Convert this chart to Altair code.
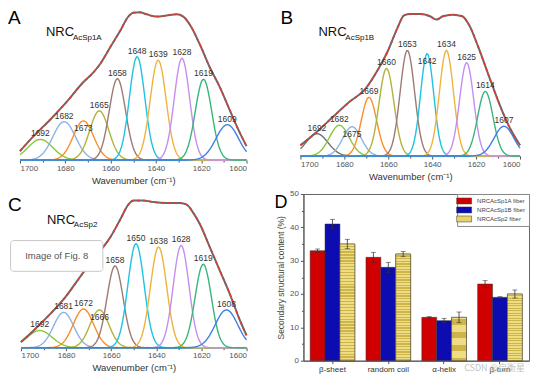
import altair as alt
import numpy as np
import pandas as pd

FONT = "Liberation Sans"

# ---------------- Panel A (NRC AcSp1A) ----------------
A_centers = [1691.0, 1680.5, 1672.0, 1665.0, 1657.0, 1648.3, 1639.0, 1628.5, 1619.0, 1608.5]
A_heights = [0.137, 0.255, 0.26, 0.327, 0.54, 0.686, 0.663, 0.676, 0.536, 0.235]
A_widths = [5.5, 5.0, 4.5, 4.2, 3.6, 3.4, 3.5, 3.4, 3.6, 5.0]
A_labels = ["1692", "1682", "1673", "1665", "1658", "1648", "1639", "1628", "1619", "1609"]
A_env_wn = [1700, 1694.1, 1686.8, 1679.4, 1672.1, 1667.6, 1664.7, 1660.3, 1655.9, 1652.2, 1650,
            1647.1, 1644.1, 1639.7, 1635.3, 1630.9, 1627.9, 1625, 1620.6, 1616.2, 1611.8, 1607.4, 1602.9, 1600]
A_env_val = [0.059, 0.157, 0.266, 0.386, 0.516, 0.582, 0.636, 0.745, 0.854, 0.952, 0.978,
             0.980, 0.967, 0.952, 0.959, 0.967, 0.952, 0.898, 0.767, 0.614, 0.484, 0.331, 0.179, 0.092]

# ---------------- Panel B (NRC AcSp1B) ----------------
B_centers = [1692.5, 1682.3, 1676.5, 1668.8, 1660.8, 1651.3, 1642.3, 1633.5, 1624.3, 1615.8, 1607.3]
B_heights = [0.153, 0.21, 0.2, 0.40, 0.597, 0.72, 0.698, 0.72, 0.637, 0.441, 0.203]
B_widths = [5.0, 4.5, 4.2, 3.5, 3.4, 3.3, 3.0, 3.2, 3.2, 3.5, 4.5]
B_labels = ["1692", "1682", "1675", "1669", "1660", "1653", "1642", "1634", "1625", "1614", "1607"]
B_env_wn = [1700, 1692.6, 1685.3, 1677.9, 1670.5, 1664.6, 1660.2, 1655.8, 1652.8, 1649.9, 1645.4,
            1641, 1638.1, 1635.1, 1630.7, 1626.3, 1623.3, 1618.9, 1614.5, 1610, 1605.6, 1600]
B_env_val = [0.074, 0.164, 0.266, 0.367, 0.457, 0.592, 0.716, 0.874, 0.959, 0.968, 0.968,
             0.953, 0.930, 0.953, 0.964, 0.953, 0.896, 0.739, 0.559, 0.378, 0.221, 0.074]

# ---------------- Panel C (NRC AcSp2) ----------------
C_centers = [1691.7, 1681.1, 1672.3, 1665.2, 1658.3, 1649.0, 1639.0, 1629.0, 1619.2, 1608.9]
C_heights = [0.112, 0.23, 0.252, 0.246, 0.532, 0.677, 0.655, 0.666, 0.543, 0.246]
C_widths = [5.5, 4.5, 4.5, 4.2, 3.6, 3.6, 3.6, 3.5, 3.6, 5.0]
C_labels = ["1692", "1681", "1672", "1666", "1658", "1650", "1638", "1628", "1619", "1608"]
C_env_wn = [1700, 1694.4, 1687, 1680.4, 1672.4, 1664.9, 1660.5, 1656, 1652.4, 1650.1, 1645.7,
            1641.3, 1635.4, 1629.5, 1626.5, 1623.6, 1620.6, 1616.2, 1611.8, 1607.4, 1602.9, 1600]
C_env_val = [0.037, 0.112, 0.22, 0.328, 0.489, 0.629, 0.716, 0.834, 0.931, 0.957, 0.957,
             0.948, 0.942, 0.942, 0.931, 0.877, 0.802, 0.651, 0.5, 0.349, 0.177, 0.08]

# labels that sit just under their peak top instead of above it (styling)
A_below = ["1673"]
B_below = ["1675", "1642"]
C_below = ["1666"]

# ---------------- Panel D ----------------
D_categories = ["β-sheet", "random coil", "α-helix", "β-turn"]
D_series = ["NRCAcSp1A fiber", "NRCAcSp1B fiber", "NRCAcSp2 fiber"]
D_values = {
    "NRCAcSp1A fiber": [33, 31, 13, 23],
    "NRCAcSp1B fiber": [41, 28, 12, 19],
    "NRCAcSp2 fiber": [35, 32, 13, 20],
}
D_errors = {
    "NRCAcSp1A fiber": [0.5, 1.5, 0.2, 1.0],
    "NRCAcSp1B fiber": [1.4, 1.5, 0.7, 0.2],
    "NRCAcSp2 fiber": [1.4, 0.8, 1.6, 1.2],
}

# colours
LIME, LBLUE, ORANGE, OLIVE, BROWN = "#8CC63E", "#8DB4E6", "#FF8C2A", "#B3B23C", "#9E7A74"
CYAN, GOLD, VIOLET, GREEN, BLUE, GRAY = "#20C4E2", "#F0B43E", "#C68EF0", "#3AB57A", "#3F7FE6", "#707070"
A_colors = [LIME, LBLUE, ORANGE, OLIVE, BROWN, CYAN, GOLD, VIOLET, GREEN, BLUE]
B_colors = [GRAY, LIME, LBLUE, ORANGE, OLIVE, BROWN, CYAN, GOLD, VIOLET, GREEN, BLUE]
C_colors = A_colors
D_colors = ["#D00000", "#0C0CB0", "#E6D36A"]

WN_GRID = np.arange(1600, 1700.001, 0.5)


def comp_df(centers, heights, widths):
    parts = []
    for i, (c, h, s) in enumerate(zip(centers, heights, widths)):
        v = h * np.exp(-0.5 * ((WN_GRID - c) / s) ** 2)
        parts.append(pd.DataFrame({"wn": WN_GRID, "val": v, "peak": f"p{i:02d}"}))
    return pd.concat(parts, ignore_index=True)


def txt(text, x, y, size, color="#000", align="left", baseline="alphabetic", font=FONT):
    return alt.Chart(pd.DataFrame({"t": [text]})).mark_text(
        align=align, baseline=baseline, fontSize=size, color=color, font=font
    ).encode(text="t:N", x=alt.value(x), y=alt.value(y))


def make_xaxis():
    return alt.Axis(
        values=list(range(1600, 1701, 10)),
        labelExpr="datum.value % 20 === 0 ? datum.value : ''",
        tickSize={"condition": {"test": "datum.value % 20 === 0", "value": 3}, "value": 2},
        title="Wavenumber (cm⁻¹)", titleFontSize=9.5, titleFontWeight="normal", titleColor="#333",
        labelFontSize=8, labelColor="#555", labelPadding=1, titlePadding=3,
        grid=False, domainColor="#555", tickColor="#555",
    )


def spectrum_panel(centers, heights, widths, labels, below, colors, env_wn, env_val,
                   width, height, xrange, letter, letter_xy, sub, nrc_xy, extra=None):
    comp = comp_df(centers, heights, widths)
    ids = [f"p{i:02d}" for i in range(len(centers))]
    xsc = alt.Scale(domain=[1700, 1600], range=xrange, nice=False, zero=False)
    ysc = alt.Scale(domain=[0, 1], nice=False, zero=False)
    X = alt.X("wn:Q", scale=xsc, axis=make_xaxis())
    Y = alt.Y("val:Q", scale=ysc, axis=None)
    lines = alt.Chart(comp).mark_line(strokeWidth=1.4).encode(
        x=X, y=Y,
        color=alt.Color("peak:N", scale=alt.Scale(domain=ids, range=colors), legend=None),
    )
    env = pd.DataFrame({"wn": env_wn, "val": env_val})
    env_base = alt.Chart(env).mark_line(color="#6a6a6a", strokeWidth=2, interpolate="monotone").encode(x=X, y=Y)
    env_dash = alt.Chart(env).mark_line(color="#E8382E", strokeWidth=1.6, strokeDash=[3, 3],
                                        interpolate="monotone").encode(x=X, y=Y)
    ldf = pd.DataFrame({"wn": centers, "val": heights, "label": labels,
                        "below": [l in below for l in labels]})
    labs_up = alt.Chart(ldf[~ldf["below"]]).mark_text(
        baseline="bottom", dy=-1, fontSize=8.5, color="#333", font=FONT
    ).encode(x=X, y=Y, text="label:N")
    labs_dn = alt.Chart(ldf[ldf["below"]]).mark_text(
        baseline="top", dy=3, fontSize=8.5, color="#333", font=FONT
    ).encode(x=X, y=Y, text="label:N")
    layers = [lines, env_base, env_dash, labs_up, labs_dn,
              txt(letter, letter_xy[0], letter_xy[1], 19),
              txt("NRC", nrc_xy[0], nrc_xy[1], 13, "#111"),
              txt(sub, nrc_xy[0] + 27, nrc_xy[1] + 3.5, 8, "#111")]
    if extra is not None:
        layers += extra(xsc, ysc)
    return alt.layer(*layers).properties(width=width, height=height)


def fig8_box(xsc, ysc):
    box = pd.DataFrame({"wn": [1704.6], "wn2": [1663.7], "val": [0.497], "val2": [0.697],
                        "mid": [1684.15], "midv": [0.597], "t": ["Image of Fig. 8"]})
    rect = alt.Chart(box).mark_rect(fill="white", stroke="#c8c8c8", strokeWidth=1, cornerRadius=3).encode(
        x=alt.X("wn:Q", scale=xsc, axis=make_xaxis()), x2="wn2:Q",
        y=alt.Y("val:Q", scale=ysc, axis=None), y2="val2:Q")
    t = alt.Chart(box).mark_text(fontSize=9.5, color="#555", font=FONT).encode(
        x=alt.X("mid:Q", scale=xsc, axis=make_xaxis()),
        y=alt.Y("midv:Q", scale=ysc, axis=None), text="t:N")
    return [rect, t]


# column 1 views: width 239 (page x 8..247); column 2 views: width 226 (page x 304..530)
panelA = spectrum_panel(A_centers, A_heights, A_widths, A_labels, A_below, A_colors, A_env_wn, A_env_val,
                        239, 151, [12, 239], "A", (0, 15), "AcSp1A", (38, 27))
panelB = spectrum_panel(B_centers, B_heights, B_widths, B_labels, B_below, B_colors, B_env_wn, B_env_val,
                        226, 147, [-3, 217], "B", (-23, 15), "AcSp1B", (15, 27))
panelC = spectrum_panel(C_centers, C_heights, C_widths, C_labels, C_below, C_colors, C_env_wn, C_env_val,
                        239, 154, [13, 239], "C", (0, 17), "AcSp2", (39, 30), extra=fig8_box)

# ---------------- Panel D build ----------------
rows = []
for s in D_series:
    for c, v, e in zip(D_categories, D_values[s], D_errors[s]):
        rows.append({"cat": c, "series": s, "val": v, "lo": v - e, "hi": v + e})
ddf = pd.DataFrame(rows)

DX = alt.X("cat:N", sort=D_categories,
           scale=alt.Scale(paddingInner=0.2, paddingOuter=0.12),
           axis=alt.Axis(title=None, labelAngle=0, labelFontSize=8, labelColor="#333",
                         tickSize=3, domainColor="#555", tickColor="#555", labelPadding=2))
DXO = alt.XOffset("series:N", sort=D_series)
Dysc = alt.Scale(domain=[0, 50], nice=False)
Dyax = alt.Axis(values=list(range(0, 51, 5)),
                labelExpr="datum.value % 10 === 0 ? datum.value : ''",
                tickSize={"condition": {"test": "datum.value % 10 === 0", "value": 3}, "value": 2},
                title="Secondary structural content (%)", titleFontSize=8.5, titleFontWeight="normal",
                titleColor="#444", labelFontSize=8, labelColor="#555", titlePadding=4, labelPadding=2,
                grid=False, domainColor="#555", tickColor="#555")

bars = alt.Chart(ddf).mark_bar(stroke="#333", strokeWidth=0.5).encode(
    x=DX, xOffset=DXO,
    y=alt.Y("val:Q", scale=Dysc, axis=Dyax),
    color=alt.Color("series:N", sort=D_series,
                    scale=alt.Scale(domain=D_series, range=D_colors),
                    legend=alt.Legend(title=None, orient="top-right", offset=0,
                                      symbolType="M-2,-0.8H2V0.8H-2Z", symbolSize=56,
                                      symbolStrokeColor="#333", symbolStrokeWidth=0.5,
                                      symbolOpacity=1,
                                      fillColor="white", strokeColor="#888", padding=3,
                                      rowPadding=1, labelFontSize=6, labelColor="#444",
                                      labelLimit=90, labelOffset=9)),
)

# horizontal hatch texture for the third (yellow) series
N_STRIPES = 40
stops = []
for k in range(N_STRIPES):
    stops += [alt.GradientStop(offset=k / N_STRIPES, color="#EEDD84"),
              alt.GradientStop(offset=(k + 0.55) / N_STRIPES, color="#EEDD84"),
              alt.GradientStop(offset=(k + 0.55) / N_STRIPES, color="#CDB54A"),
              alt.GradientStop(offset=(k + 1) / N_STRIPES, color="#CDB54A")]
hatch = alt.Chart(ddf[ddf["series"] == D_series[2]]).mark_bar(
    fill=alt.LinearGradient(gradient="linear", stops=stops, x1=0, x2=0, y1=0, y2=1),
    stroke="#333", strokeWidth=0.5,
).encode(x=DX, xOffset=DXO, y=alt.Y("val:Q", scale=Dysc, axis=Dyax))

err = alt.Chart(ddf).mark_rule(color="#333", strokeWidth=0.8).encode(
    x=DX, xOffset=DXO, y=alt.Y("lo:Q", scale=Dysc, axis=Dyax), y2="hi:Q")
cap_hi = alt.Chart(ddf).mark_tick(color="#333", thickness=0.8, size=5).encode(
    x=DX, xOffset=DXO, y=alt.Y("hi:Q", scale=Dysc, axis=Dyax))
cap_lo = alt.Chart(ddf).mark_tick(color="#333", thickness=0.8, size=5).encode(
    x=DX, xOffset=DXO, y=alt.Y("lo:Q", scale=Dysc, axis=Dyax))

panelD = alt.layer(
    bars, hatch, err, cap_hi, cap_lo,
    txt("D", -29, 14, 18),
    txt("CSDN @启衡星", 161, 177, 9, "#c4c4c4", font="Noto Sans CJK SC"),
).properties(width=226, height=167, view=alt.ViewBackground(stroke="#666", strokeWidth=1))

chart = alt.concat(panelA, panelB, panelC, panelD, columns=2, spacing=alt.RowColnumber(row=34, column=57),
                   bounds="flush").resolve_scale(color="independent").properties(padding=0).configure(
    font=FONT
).configure_view(stroke=None)

chart.save("out.html", embed_options={"renderer": "svg", "actions": False})
